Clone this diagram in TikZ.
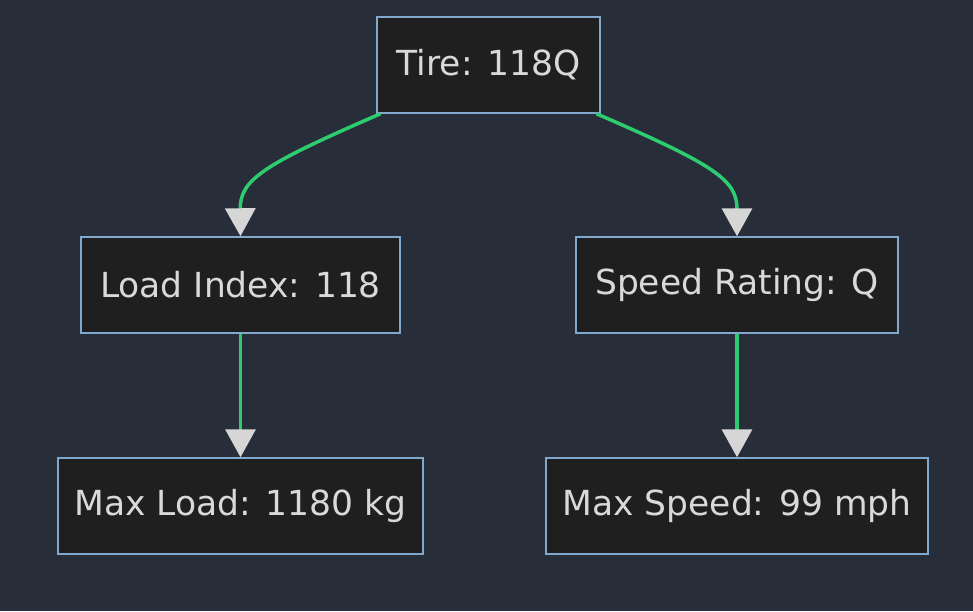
\documentclass[tikz,border=0pt]{standalone}
\usepackage{fontspec}
\setmainfont{DejaVu Sans}
\usetikzlibrary{arrows.meta}
\definecolor{bgcol}{HTML}{282D3A}
\definecolor{boxfill}{HTML}{1F1F1F}
\definecolor{boxline}{HTML}{81A9CF}
\definecolor{txtcol}{HTML}{D9D9D9}
\definecolor{edgecol}{HTML}{2ECC71}
\definecolor{tipcol}{HTML}{D6D6D6}
\tikzset{
  box/.style={draw=boxline,fill=boxfill,line width=1.5pt,text=txtcol,
    inner sep=0pt,minimum height=96pt,font=\fontsize{34.5}{38}\selectfont},
  link/.style={draw=edgecol,line width=3.5pt,
    -{Triangle[length=28pt,width=30pt,color=tipcol,fill=tipcol]}}
}
\begin{document}
\begin{tikzpicture}[x=1pt,y=-1pt]
\fill[bgcol] (0,0) rectangle (973,611);
\useasboundingbox (0,0) rectangle (973,611);

\node[box,minimum width=223pt] (tire) at (488.5,65) {Tire: 118Q};
\node[box,minimum width=319pt] (load) at (240.5,285) {Load Index: 118};
\node[box,minimum width=322pt] (speed) at (737,285) {Speed Rating: Q};
\node[box,minimum width=365pt] (maxload) at (240.5,506) {Max Load: 1180 kg};
\node[box,minimum width=382pt] (maxspeed) at (737,506) {Max Speed: 99 mph};

\draw[link] ([xshift=-108pt]tire.south) .. controls (262,165) and (240,180) .. (load.north);
\draw[link] ([xshift=108pt]tire.south) .. controls (715,165) and (737,180) .. (speed.north);
\draw[link] (load.south) -- (maxload.north);
\draw[link] (speed.south) -- (maxspeed.north);

\end{tikzpicture}
\end{document}
